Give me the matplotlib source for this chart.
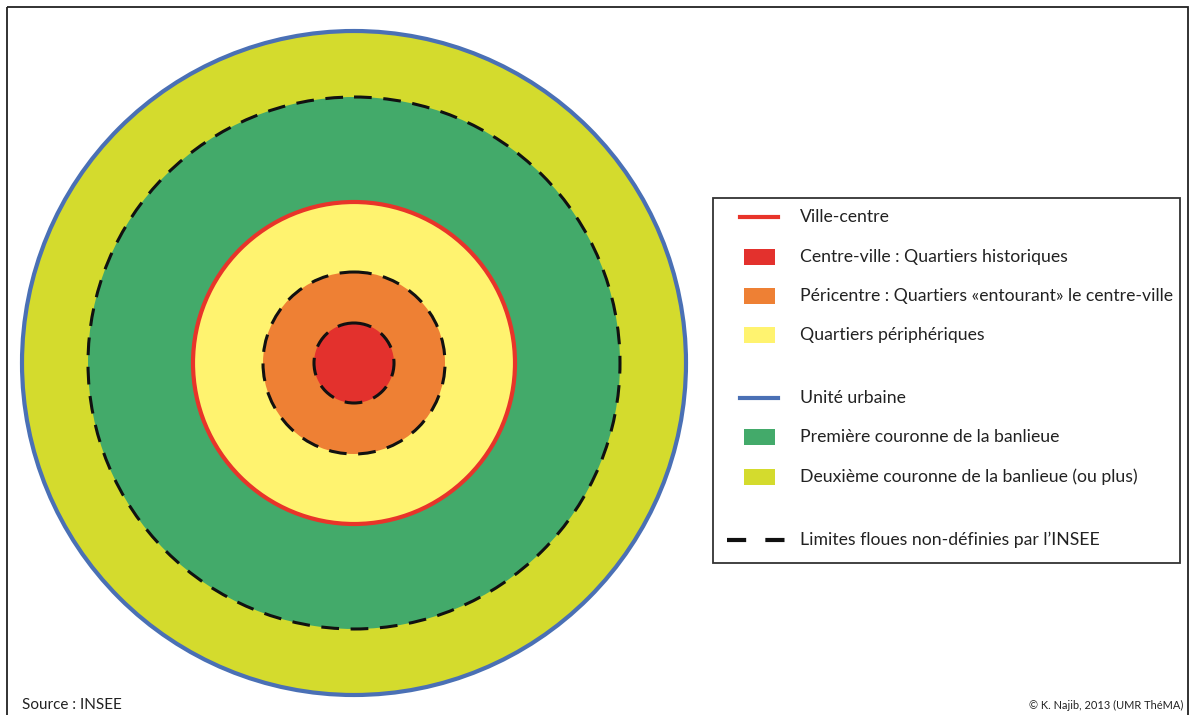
import matplotlib
matplotlib.use('Agg')
import matplotlib.pyplot as plt
from matplotlib.patches import Circle, Rectangle
from matplotlib.lines import Line2D

plt.rcParams['font.family'] = ['Lato', 'DejaVu Sans']

# rings, from outside to centre (radius in px of the 1192x715 picture)
ring_radius = [332, 266, 161, 91, 40]
ring_colors = ['#D4DB2D', '#43AA6A', '#FFF36F', '#EE8034', '#E3312D']
ring_edges = ['#4A70B5', 'dash', '#E8342A', 'dash', 'dash']
centre = (354, 363)

legend_labels = ['Ville-centre',
                 'Centre-ville : Quartiers historiques',
                 'Péricentre : Quartiers «entourant» le centre-ville',
                 'Quartiers périphériques',
                 'Unité urbaine',
                 'Première couronne de la banlieue',
                 'Deuxième couronne de la banlieue (ou plus)',
                 'Limites floues non-définies par l\u2019INSEE']
legend_kinds = ['line', 'patch', 'patch', 'patch', 'line', 'patch', 'patch', 'dash']
legend_colors = ['#E8342A', '#E3312D', '#EE8034', '#FFF36F',
                 '#4A70B5', '#43AA6A', '#D4DB2D', '#111111']
legend_y = [217, 257, 296, 335, 398, 437, 477, 540]

fig = plt.figure(figsize=(11.92, 7.15), dpi=100)
ax = fig.add_axes([0, 0, 1, 1])
ax.set_xlim(0, 1192)
ax.set_ylim(715, 0)
ax.set_aspect('equal')
ax.axis('off')

# frame
ax.add_patch(Rectangle((7, 7), 1181, 720, fill=False, ec='#222222', lw=1.3, zorder=1))

for r, fc, ec in zip(ring_radius, ring_colors, ring_edges):
    if ec == 'dash':
        ax.add_patch(Circle(centre, r, fc=fc, ec='none', zorder=2))
    else:
        ax.add_patch(Circle(centre, r, fc=fc, ec=ec, lw=3, zorder=2))

# dashed boundaries on top of fills
for r, ec in zip(ring_radius, ring_edges):
    if ec == 'dash':
        ax.add_patch(Circle(centre, r, fill=False, ec='#111111', lw=2.2,
                            linestyle=(0, (5.8, 3.8)), zorder=4))

# legend box
ax.add_patch(Rectangle((713, 198), 467, 365, fc='white', ec='#333333', lw=1.3, zorder=5))
for lab, kind, col, y in zip(legend_labels, legend_kinds, legend_colors, legend_y):
    if kind == 'line':
        ax.add_line(Line2D([740, 778], [y, y], color=col, lw=3, zorder=6))
    elif kind == 'patch':
        ax.add_patch(Rectangle((744, y - 8), 31, 16, fc=col, ec='none', zorder=6))
    else:
        ax.add_line(Line2D([727, 785], [y, y], color=col, lw=3, solid_capstyle='butt',
                           dash_capstyle='butt', linestyle=(0, (4.6, 4.6)), zorder=6))
    ax.text(800, y, lab, fontsize=12.7, color='#222222', va='center', ha='left', zorder=7)

ax.text(22, 705, 'Source : INSEE', fontsize=11, color='#222222', va='center', ha='left')
ax.text(1183, 705, '© K. Najib, 2013 (UMR ThéMA)', fontsize=7.9, color='#222222',
        va='center', ha='right')

fig.savefig('out.png', dpi=100, facecolor='white')
